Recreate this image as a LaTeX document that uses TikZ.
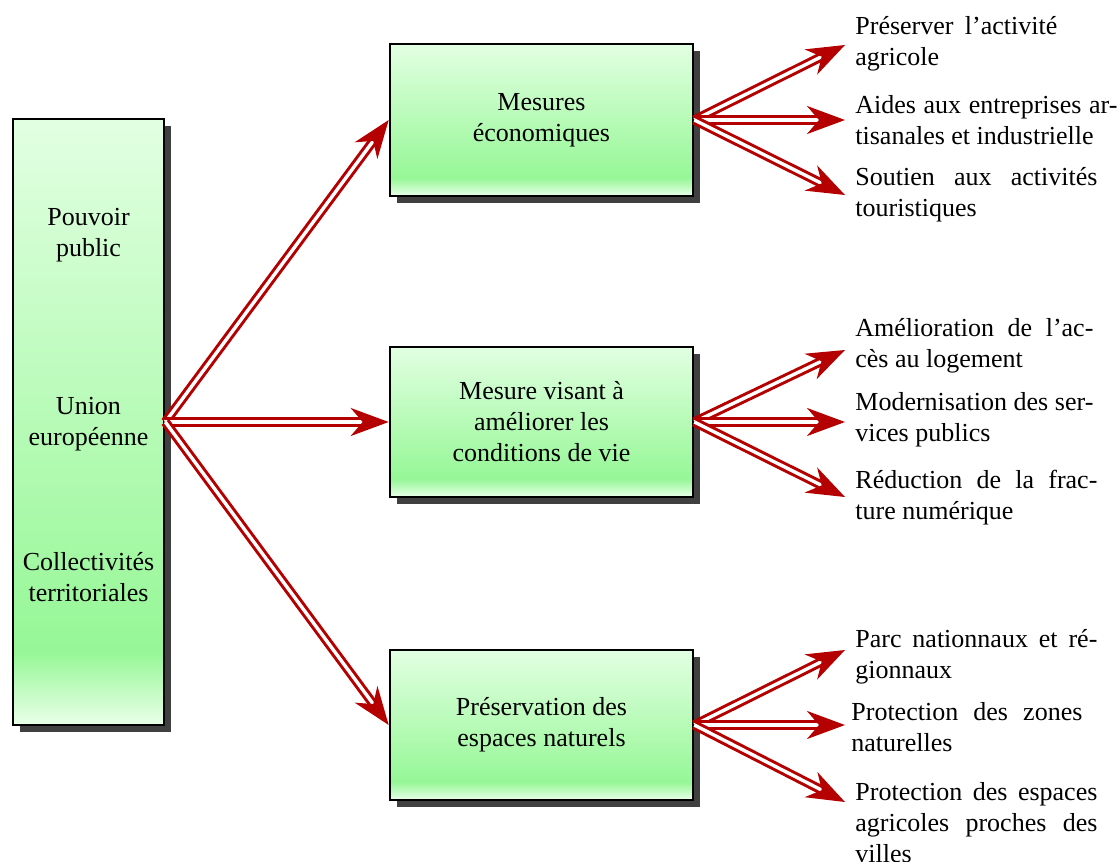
\documentclass[tikz,border=0pt]{standalone}
\usepackage{fontspec}
\setmainfont{Liberation Serif}
\usetikzlibrary{arrows.meta,shadows}
\definecolor{palegreen}{RGB}{226,255,226}
\definecolor{midgreen}{RGB}{150,247,150}
\definecolor{palebottom}{RGB}{234,255,234}
\definecolor{arrowred}{RGB}{180,0,0}
\definecolor{shadowgray}{RGB}{64,64,64}
\pgfdeclareverticalshading{boxshade}{100bp}{color(0bp)=(palebottom); color(25bp)=(palebottom); color(31bp)=(midgreen); color(75bp)=(palegreen); color(100bp)=(palegreen)}
\begin{document}
\begin{tikzpicture}[x=0.5pt,y=-0.5pt,
  every node/.style={font=\fontsize{13pt}{15.5pt}\selectfont},
  box/.style={draw=black, line width=1.3pt, shading=boxshade, align=center, inner sep=0pt,
    drop shadow={shadow xshift=3.5pt, shadow yshift=-3.5pt, fill=shadowgray, opacity=1}},
  lbl/.style={align=center, inner sep=0pt},
  rtxt/.style={align=left, anchor=west, inner sep=0pt},
  link/.style={draw=arrowred, line width=1.5pt, double=white, double distance=1.7pt,
    -{Stealth[length=19pt,width=14pt,inset=6pt]}}
]
\useasboundingbox (0,0) rectangle (1120,862);

% left box
\node[box, minimum width=75.5pt, minimum height=303pt] (L) at (88.5,422) {};
\node[lbl] (l1) at (88.5,235) {Pouvoir\\public};
\node[lbl] (l2) at (88.5,424) {Union\\européenne};
\node[lbl] (l3) at (88.5,577) {Collectivités\\territoriales};

% middle boxes
\node[box, minimum width=151.5pt, minimum height=76pt] (B1) at (541.5,120) {Mesures\\économiques};
\node[box, minimum width=151.5pt, minimum height=75pt] (B2) at (541.5,422) {Mesure visant à\\améliorer les\\conditions de vie};
\node[box, minimum width=151.5pt, minimum height=75pt] (B3) at (541.5,725) {Préservation des\\espaces naturels};

% right texts
\node[rtxt] (t11) at (855,44) {\makebox[101pt][s]{Préserver l’activité}\\agricole};
\node[rtxt] (t12) at (855,120.5) {\makebox[131pt][s]{Aides aux entreprises ar-}\\tisanales et industrielle};
\node[rtxt] (t13) at (855,195) {\makebox[121pt][s]{Soutien aux activités}\\touristiques};
\node[rtxt] (t21) at (855,345.5) {\makebox[119pt][s]{Amélioration de l’ac-}\\cès au logement};
\node[rtxt] (t22) at (855,420) {\makebox[119pt][s]{Modernisation des ser-}\\vices publics};
\node[rtxt] (t23) at (855,497.5) {\makebox[121pt][s]{Réduction de la frac-}\\ture numérique};
\node[rtxt] (t31) at (855,656.5) {\makebox[121pt][s]{Parc nationnaux et ré-}\\gionnaux};
\node[rtxt] (t32) at (851,727) {\makebox[115.5pt][s]{Protection des zones}\\naturelles};
\node[rtxt] (t33) at (855,823) {\makebox[121pt][s]{Protection des espaces}\\\makebox[121pt][s]{agricoles proches des}\\villes};

% arrow tips
\coordinate (e11) at (845,45);
\coordinate (e12) at (845,120);
\coordinate (e13) at (845,195);
\coordinate (e21) at (845,350);
\coordinate (e22) at (845,422);
\coordinate (e23) at (845,497);
\coordinate (e31) at (845,650);
\coordinate (e32) at (845,725);
\coordinate (e33) at (845,802);

% connectors
\draw[link] (L.east) -- (B1.west);
\draw[link] (L.east) -- (B2.west);
\draw[link] (L.east) -- (B3.west);
\draw[link] (B1.east) -- (e11);
\draw[link] (B1.east) -- (e12);
\draw[link] (B1.east) -- (e13);
\draw[link] (B2.east) -- (e21);
\draw[link] (B2.east) -- (e22);
\draw[link] (B2.east) -- (e23);
\draw[link] (B3.east) -- (e31);
\draw[link] (B3.east) -- (e32);
\draw[link] (B3.east) -- (e33);
\end{tikzpicture}
\end{document}
